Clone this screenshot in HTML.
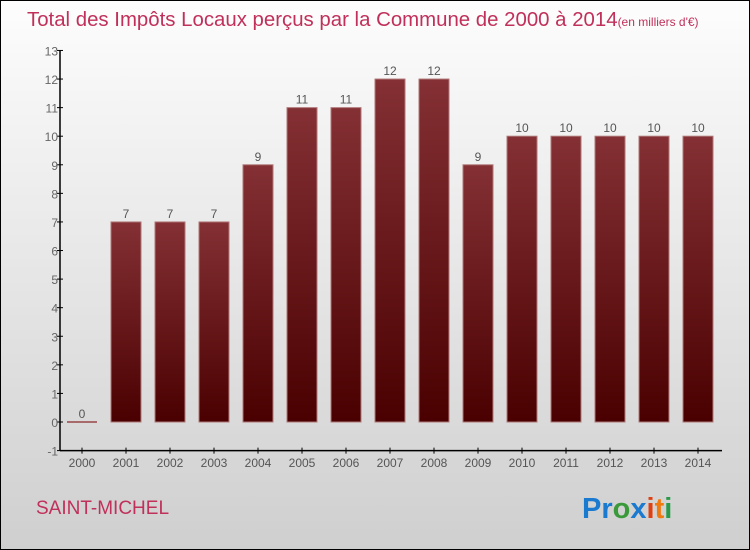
<!DOCTYPE html>
<html><head><meta charset="utf-8"><style>
body{margin:0}
#c{width:750px;height:550px;position:relative;box-sizing:border-box;border:1px solid #000;background:linear-gradient(#fdfdfd,#cfcfcf);font-family:"Liberation Sans",sans-serif;overflow:hidden}
</style></head><body>
<div id="c">
<svg width="750" height="550" style="position:absolute;left:-1px;top:-1px">
<defs><linearGradient id="g" x1="0" y1="0" x2="0" y2="1"><stop offset="0" stop-color="#843034"/><stop offset="1" stop-color="#4a0000"/></linearGradient></defs>
<text x="27" y="26" font-size="20.4" fill="#c0305a">Total des Impôts Locaux perçus par la Commune de 2000 à 2014<tspan font-size="12">(en milliers d'€)</tspan></text>
<g id="yax"></g><g id="bars"></g><g id="xax"></g>
<text x="36" y="514" font-size="19" fill="#c0305a">SAINT-MICHEL</text>
<text x="582" y="518" font-size="29" font-weight="bold"><tspan fill="#1a7ad0">Pr</tspan><tspan fill="#3a9a3a">o</tspan><tspan fill="#1a7ad0">x</tspan><tspan fill="#e04010">i</tspan><tspan fill="#f07a10">t</tspan><tspan fill="#2a9a4a">i</tspan></text>
</svg>
</div>
<script>
const years=["2000","2001","2002","2003","2004","2005","2006","2007","2008","2009","2010","2011","2012","2013","2014"];
const values=[0,7,7,7,9,11,11,12,12,9,10,10,10,10,10];
const yTicks=[-1,0,1,2,3,4,5,6,7,8,9,10,11,12,13];
const NS="http://www.w3.org/2000/svg";
const y=v=>422-v*28.58;
const x=i=>82+i*44;
function mk(t,a,p){const e=document.createElementNS(NS,t);for(const k in a)e.setAttribute(k,a[k]);p.appendChild(e);return e;}
const ya=document.getElementById('yax'),bg=document.getElementById('bars'),xa=document.getElementById('xax');
let l=mk('line',{x1:60,y1:y(13),x2:60,y2:y(-1),stroke:'#000','stroke-width':1.5},ya);


yTicks.forEach(v=>{
 const t=mk('line',{x1:57,x2:63,y1:y(v),y2:y(v),stroke:'#000'},ya);
 
 
 const tx=mk('text',{x:58,y:y(v)+5,'font-size':12,fill:'#666','text-anchor':'end'},ya);
 tx.textContent=v;
 
 
});
l=mk('line',{x1:60,y1:y(-1),x2:722,y2:y(-1),stroke:'#000','stroke-width':1.5},xa);


years.forEach((yr,i)=>{
 const cx=x(i),v=values[i];
 const t=mk('line',{x1:cx,x2:cx,y1:y(-1)-3,y2:y(-1)+3,stroke:'#000'},xa);
 
 
 const tx=mk('text',{x:cx,y:467,'font-size':12,fill:'#555','text-anchor':'middle'},xa);
 tx.textContent=yr;
 
 
 let b;
 if(v===0){b=mk('rect',{x:cx-15,y:y(0)-1,width:30,height:2,fill:'#a86a6a'},bg);}
 else{b=mk('rect',{x:cx-15,y:y(v),width:30,height:y(0)-y(v),fill:'url(#g)',stroke:'#b07878','stroke-width':1},bg);}
 
 
 const vl=mk('text',{x:cx,y:y(v)-4,'font-size':12,fill:'#555','text-anchor':'middle'},bg);
 vl.textContent=v;
 
 
});
</script>
</body></html>
